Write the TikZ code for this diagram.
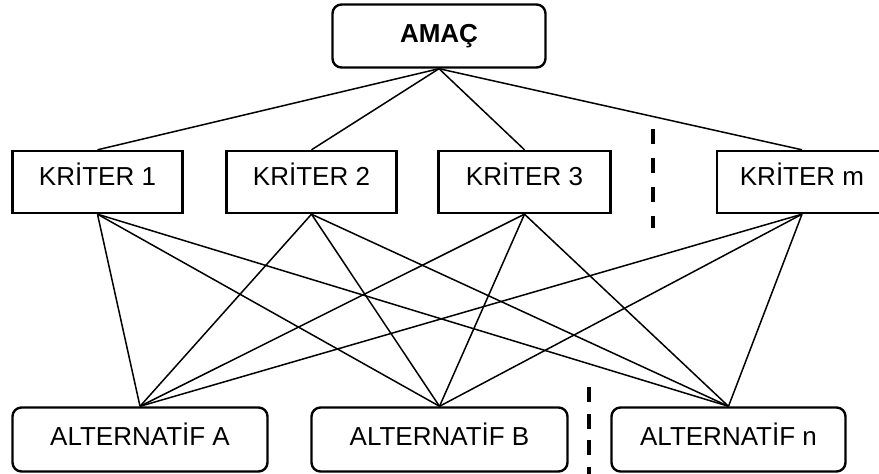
\documentclass[tikz,border=0pt]{standalone}
\usepackage{fontspec}
\setmainfont{Liberation Sans}
\newcommand{\lift}[2]{\raisebox{#1pt}{#2}}
\begin{document}
\begin{tikzpicture}[x=1pt,y=-1pt,
  box/.style={draw, line width=2.4pt, inner sep=0pt, font=\fontsize{26}{30}\selectfont,
              text height=18.6pt, text depth=0pt},
  goalbox/.style={box, rounded corners=9pt, minimum width=213pt, minimum height=63pt,
                  font=\fontsize{26}{30}\selectfont\bfseries},
  critbox/.style={box, minimum height=62pt},
  altbox/.style={box, rounded corners=9pt, minimum height=64pt},
  link/.style={line width=1.5pt},
  sep/.style={line width=4pt, dash pattern=on 14.5pt off 14.5pt}]
  \clip (0,0) rectangle (879,474);
  % goal
  \node[goalbox] (goal) at (439,36) {\lift{3}{AMAÇ}};
  % criteria
  \node[critbox, minimum width=170pt] (k1) at (97.5,182) {\lift{6}{KRİTER 1}};
  \node[critbox, minimum width=170pt] (k2) at (311.5,182) {\lift{6}{KRİTER 2}};
  \node[critbox, minimum width=172pt] (k3) at (524.5,182) {\lift{6}{KRİTER 3}};
  \node[critbox, minimum width=170pt] (km) at (802,182) {\lift{6}{KRİTER m}};
  % alternatives
  \node[altbox, minimum width=255pt] (aa) at (140,439.5) {\lift{3.5}{ALTERNATİF A}};
  \node[altbox, minimum width=256pt] (ab) at (439.5,439.5) {\lift{3.5}{ALTERNATİF B}};
  \node[altbox, minimum width=234pt] (an) at (728.5,439.5) {\lift{3.5}{ALTERNATİF n}};
  % goal to criteria
  \foreach \k in {k1,k2,k3,km}
    \draw[link] (goal.south) -- (\k.north);
  % criteria to alternatives
  \foreach \k in {k1,k2,k3,km}
    \foreach \a in {aa,ab,an}
      \draw[link] (\k.south) -- (\a.north);
  % ellipsis separators
  \coordinate (s1a) at (653,129);
  \coordinate (s1b) at (653,228);
  \coordinate (s2a) at (589,387);
  \coordinate (s2b) at (589,480);
  \draw[sep] (s1a) -- (s1b);
  \draw[line width=4pt, dash pattern=on 15pt off 11.5pt] (s2a) -- (s2b);
\end{tikzpicture}
\end{document}
